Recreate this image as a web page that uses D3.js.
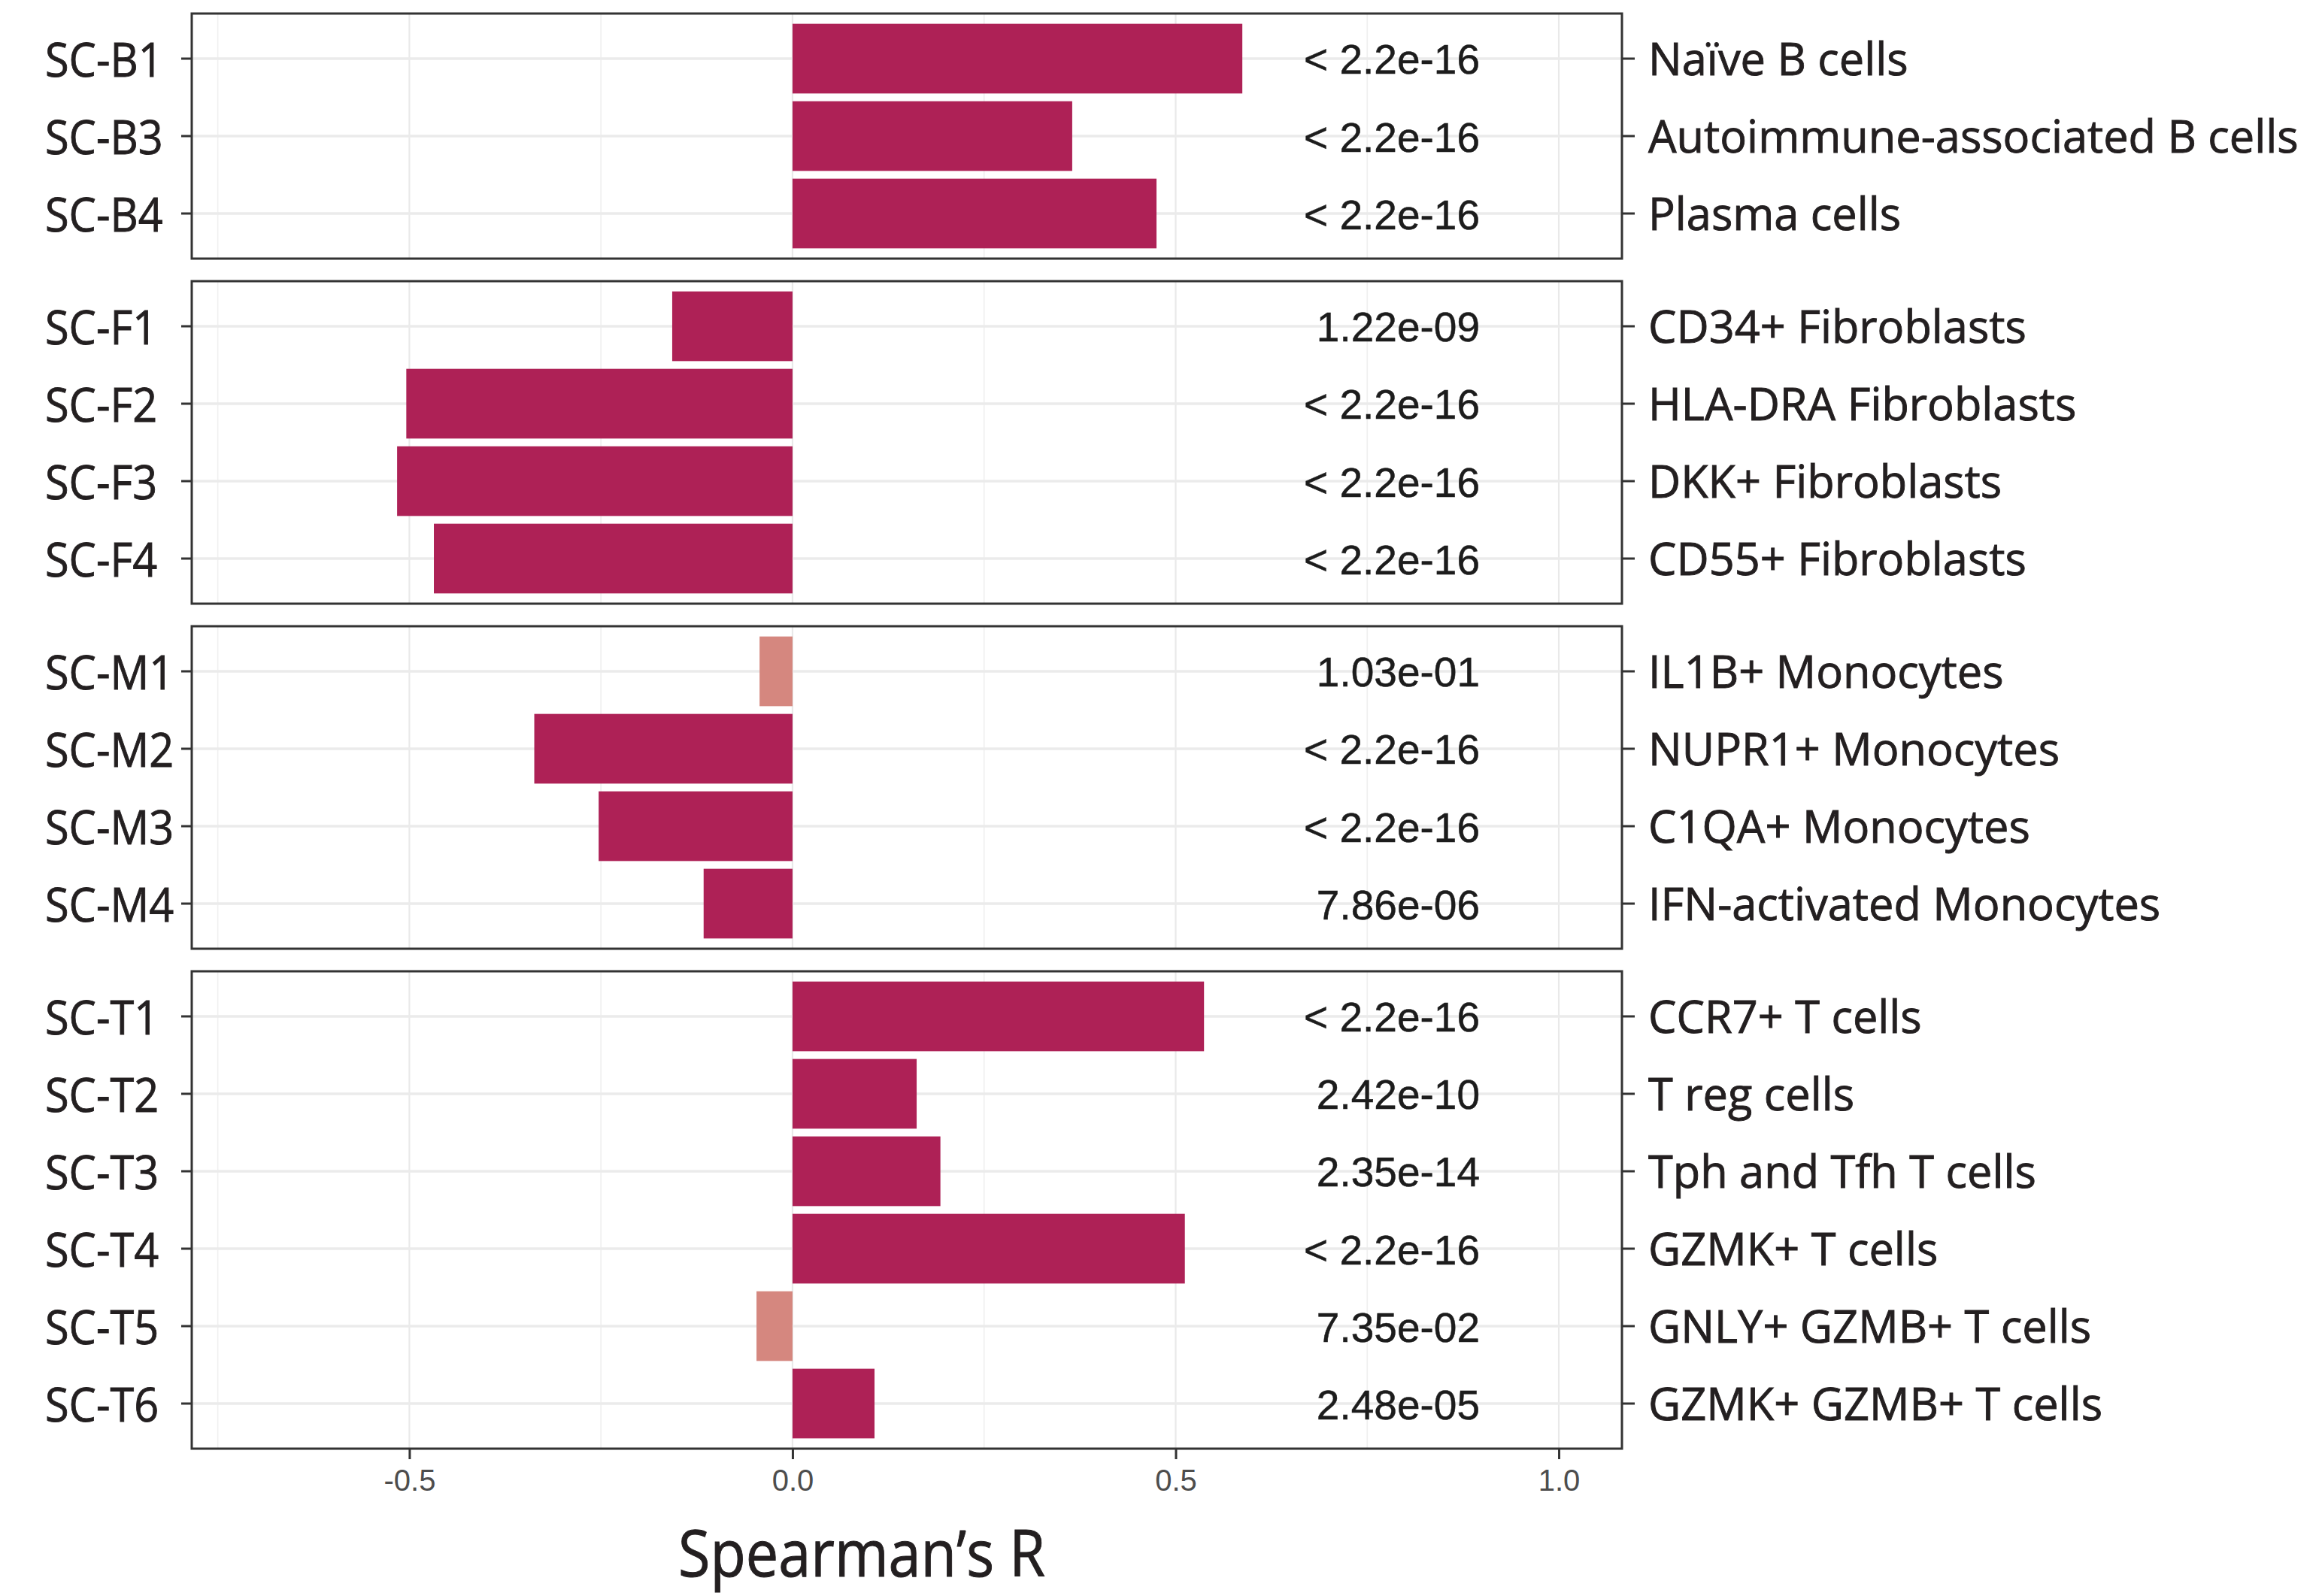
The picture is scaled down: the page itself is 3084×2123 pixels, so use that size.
<!DOCTYPE html>
<html>
<head>
<meta charset="utf-8">
<script src="https://cdn.jsdelivr.net/npm/d3@7"></script>
<style>
  html, body { margin: 0; padding: 0; background: #ffffff; }
  svg { display: block; }
</style>
</head>
<body>
<script>
// ---------------- data ----------------
const clusters = ["SC-B1","SC-B3","SC-B4","SC-F1","SC-F2","SC-F3","SC-F4","SC-M1","SC-M2","SC-M3","SC-M4","SC-T1","SC-T2","SC-T3","SC-T4","SC-T5","SC-T6"];
const groups = ["B","B","B","F","F","F","F","M","M","M","M","T","T","T","T","T","T"];
const cellTypes = ["Naïve B cells","Autoimmune-associated B cells","Plasma cells",
  "CD34+ Fibroblasts","HLA-DRA Fibroblasts","DKK+ Fibroblasts","CD55+ Fibroblasts",
  "IL1B+ Monocytes","NUPR1+ Monocytes","C1QA+ Monocytes","IFN-activated Monocytes",
  "CCR7+ T cells","T reg cells","Tph and Tfh T cells","GZMK+ T cells","GNLY+ GZMB+ T cells","GZMK+ GZMB+ T cells"];
const spearmanR = [0.587, 0.365, 0.475, -0.157, -0.504, -0.516, -0.468, -0.043, -0.337, -0.253, -0.116, 0.537, 0.162, 0.193, 0.512, -0.047, 0.107];
const pValues = ["< 2.2e-16","< 2.2e-16","< 2.2e-16","1.22e-09","< 2.2e-16","< 2.2e-16","< 2.2e-16",
  "1.03e-01","< 2.2e-16","< 2.2e-16","7.86e-06","< 2.2e-16","2.42e-10","2.35e-14","< 2.2e-16","7.35e-02","2.48e-05"];
const groupOrder = ["B","F","M","T"];
const xTicks = [-0.5, 0.0, 0.5, 1.0];
const xMinorTicks = [-0.75, -0.25, 0.25, 0.75];
const xDomain = [-0.784, 1.0824];
const xTitle = "Spearman\u2019s R";

// ---------------- layout ----------------
const W = 3084, H = 2123;
const plotL = 255, plotR = 2157;
const top0 = 18, step = 103, pad = 60, gap = 30;
const darkColor = "#AE2156", lightColor = "#D5877F";
const borderColor = "#333333";
const labelFont = "'Open Sans', 'Noto Sans', sans-serif";
const numFont = "'Liberation Sans', Arial, Helvetica, sans-serif";

const rows = clusters.map((c, i) => ({
  cluster: c, group: groups[i], cell: cellTypes[i], r: spearmanR[i], p: pValues[i],
  sig: parseFloat(pValues[i].replace("<", "").trim()) < 0.05
}));

const svg = d3.select("body").append("svg").attr("width", W).attr("height", H)
  .attr("viewBox", `0 0 ${W} ${H}`);
svg.append("rect").attr("width", W).attr("height", H).attr("fill", "#fff");

const x = d3.scaleLinear().domain(xDomain).range([plotL, plotR]);

let cursor = top0;
const panels = groupOrder.map(g => {
  const data = rows.filter(d => d.group === g);
  const h = (data.length - 1) * step + 2 * pad;
  const y = d3.scaleBand().domain(data.map(d => d.cluster))
    .range([cursor, cursor + h]).paddingInner(0.1).paddingOuter(0.1325);
  const p = { g, data, top: cursor, h, y };
  cursor += h + gap;
  return p;
});
const plotBottom = panels[panels.length - 1].top + panels[panels.length - 1].h;

panels.forEach(p => {
  const gp = svg.append("g");
  const yc = d => p.y(d.cluster) + p.y.bandwidth() / 2;
  // minor vertical gridlines
  gp.selectAll(".vmin").data(xMinorTicks).join("line")
    .attr("x1", d => x(d)).attr("x2", d => x(d))
    .attr("y1", p.top).attr("y2", p.top + p.h)
    .attr("stroke", "#efefef").attr("stroke-width", 1.6);
  // major vertical gridlines
  gp.selectAll(".vmaj").data(xTicks).join("line")
    .attr("x1", d => x(d)).attr("x2", d => x(d))
    .attr("y1", p.top).attr("y2", p.top + p.h)
    .attr("stroke", "#e9e9e9").attr("stroke-width", 2.2);
  // horizontal gridlines
  gp.selectAll(".hmaj").data(p.data).join("line")
    .attr("x1", plotL).attr("x2", plotR)
    .attr("y1", yc).attr("y2", yc)
    .attr("stroke", "#ebebeb").attr("stroke-width", 3.5);
  // bars
  gp.selectAll(".bar").data(p.data).join("rect")
    .attr("x", d => x(Math.min(0, d.r)))
    .attr("width", d => Math.abs(x(d.r) - x(0)))
    .attr("y", d => p.y(d.cluster))
    .attr("height", p.y.bandwidth())
    .attr("fill", d => d.sig ? darkColor : lightColor);
  // p-value labels
  gp.selectAll(".pv").data(p.data).join("text")
    .attr("x", 1968).attr("y", d => yc(d) + 20.5)
    .attr("text-anchor", "end")
    .attr("font-family", numFont)
    .attr("font-size", 55).attr("fill", "#1c1c1c")
    .attr("stroke", "#1c1c1c").attr("stroke-width", 0.5)
    .text(d => d.p);
  // border
  gp.append("rect").attr("x", plotL).attr("y", p.top)
    .attr("width", plotR - plotL).attr("height", p.h)
    .attr("fill", "none").attr("stroke", borderColor).attr("stroke-width", 3);
  // left axis ticks
  const axL = gp.append("g").attr("transform", `translate(${plotL},0)`)
    .call(d3.axisLeft(p.y).tickSize(14).tickFormat(""));
  axL.select(".domain").remove();
  axL.selectAll("line").attr("stroke", borderColor).attr("stroke-width", 3);
  // right axis ticks
  const axR = gp.append("g").attr("transform", `translate(${plotR},0)`)
    .call(d3.axisRight(p.y).tickSize(17).tickFormat(""));
  axR.select(".domain").remove();
  axR.selectAll("line").attr("stroke", borderColor).attr("stroke-width", 3);
  // left labels (cluster)
  gp.selectAll(".cl").data(p.data).join("text")
    .attr("transform", d => `translate(60,${yc(d) + 24}) scale(0.93,1)`)
    .attr("font-family", labelFont)
    .attr("font-size", 62).attr("fill", "#231f20")
    .attr("stroke", "#231f20").attr("stroke-width", 0.9)
    .text(d => d.cluster);
  // right labels (cell types)
  gp.selectAll(".ct").data(p.data).join("text")
    .attr("x", 2192).attr("y", d => yc(d) + 22)
    .attr("font-family", labelFont)
    .attr("font-size", 59.5).attr("fill", "#231f20")
    .attr("stroke", "#231f20").attr("stroke-width", 0.9)
    .text(d => d.cell);
});

// bottom axis
const axB = svg.append("g").attr("transform", `translate(0,${plotBottom})`)
  .call(d3.axisBottom(x).tickValues(xTicks).tickSize(14).tickPadding(8)
    .tickFormat(d => d.toFixed(1)));
axB.select(".domain").remove();
axB.selectAll("line").attr("stroke", borderColor).attr("stroke-width", 3);
axB.selectAll("text")
  .attr("font-family", numFont)
  .attr("font-size", 40).attr("fill", "#4d4d4d")
  .attr("dy", null).attr("y", 56);

// x title
svg.append("text")
  .attr("transform", `translate(1146,2097) scale(0.9,1)`)
  .attr("text-anchor", "middle")
  .attr("font-family", labelFont)
  .attr("font-size", 86).attr("fill", "#231f20")
  .attr("stroke", "#231f20").attr("stroke-width", 1)
  .text(xTitle);
</script>
</body>
</html>
